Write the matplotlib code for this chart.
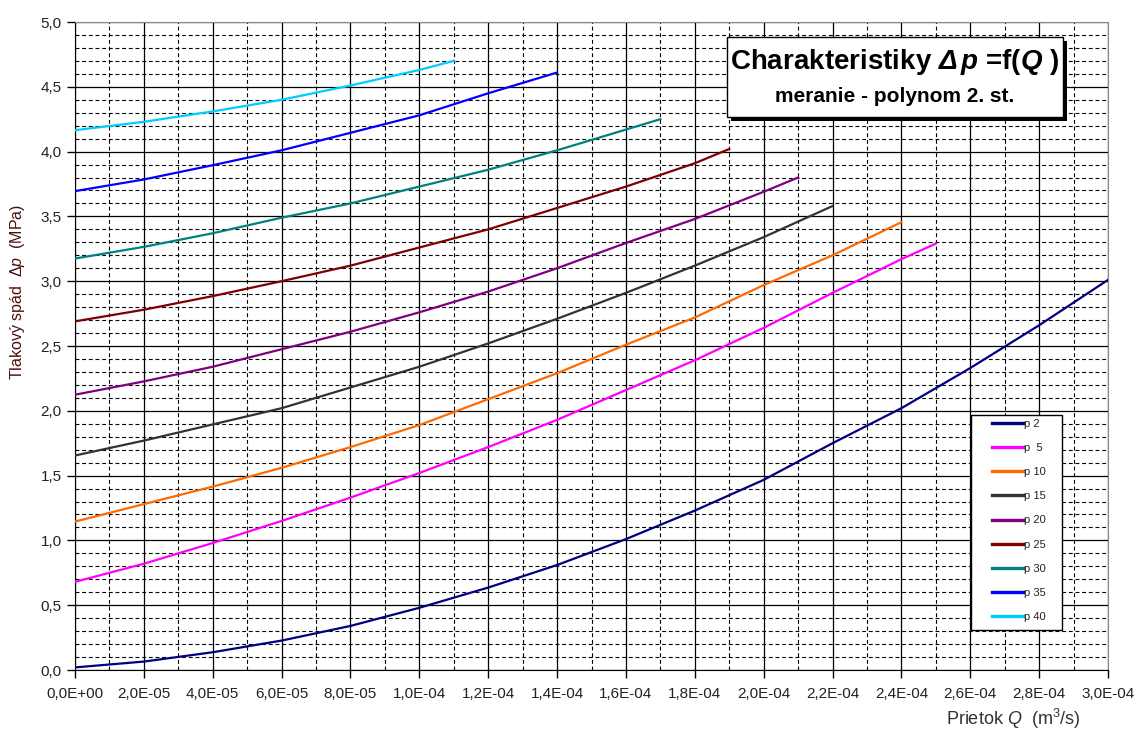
"""Charakteristiky dp = f(Q): meranie, polynom 2. st."""
import numpy as np
import matplotlib; matplotlib.use('Agg')
import matplotlib.pyplot as plt
from matplotlib.ticker import MultipleLocator, FuncFormatter
from matplotlib.patches import Rectangle

plt.rcParams['font.family'] = ['Liberation Sans', 'DejaVu Sans']
plt.rcParams['mathtext.fontset'] = 'custom'
plt.rcParams['mathtext.rm'] = 'Liberation Sans'
plt.rcParams['mathtext.it'] = 'Liberation Sans:italic'
plt.rcParams['mathtext.bf'] = 'Liberation Sans:bold'
plt.rcParams['mathtext.bfit'] = 'Liberation Sans:bold:italic'

# Q in units of 1e-5 m^3/s, dp in MPa
LABELS = ['p 2', 'p  5', 'p 10', 'p 15', 'p 20', 'p 25', 'p 30', 'p 35', 'p 40']
COLORS = ['#000080', '#FF00FF', '#FF6A00', '#333333', '#800080',
          '#800000', '#008080', '#0000FF', '#00CCFF']

q_p2 = [0, 2, 4, 6, 8, 10, 12, 14, 16, 18, 20, 22, 24, 26, 28, 30]
dp_p2 = [0.02, 0.065, 0.137, 0.227, 0.34, 0.48, 0.636, 0.81, 1.01, 1.23,
         1.467, 1.75, 2.02, 2.33, 2.66, 3.01]
q_p5 = [0, 2, 4, 6, 8, 10, 12, 14, 16, 18, 20, 22, 24, 25]
dp_p5 = [0.68, 0.82, 0.98, 1.15, 1.33, 1.52, 1.72, 1.93, 2.16, 2.39,
         2.64, 2.91, 3.17, 3.29]
q_p10 = [0, 2, 4, 6, 8, 10, 12, 14, 16, 18, 20, 22, 24]
dp_p10 = [1.145, 1.28, 1.415, 1.56, 1.72, 1.89, 2.09, 2.29, 2.51, 2.72,
          2.97, 3.2, 3.455]
q_p15 = [0, 2, 4, 6, 8, 10, 12, 14, 16, 18, 20, 22]
dp_p15 = [1.655, 1.77, 1.895, 2.02, 2.18, 2.34, 2.52, 2.71, 2.91, 3.12,
          3.34, 3.58]
q_p20 = [0, 2, 4, 6, 8, 10, 12, 14, 16, 18, 20, 21]
dp_p20 = [2.124, 2.227, 2.34, 2.475, 2.61, 2.76, 2.92, 3.10, 3.295, 3.48,
          3.69, 3.80]
q_p25 = [0, 2, 4, 6, 8, 10, 12, 14, 16, 18, 19]
dp_p25 = [2.69, 2.78, 2.885, 3.0, 3.12, 3.26, 3.40, 3.565, 3.73, 3.91, 4.02]
q_p30 = [0, 2, 4, 6, 8, 10, 12, 14, 16, 17]
dp_p30 = [3.175, 3.265, 3.37, 3.49, 3.60, 3.73, 3.86, 4.01, 4.17, 4.25]
q_p35 = [0, 2, 4, 6, 8, 10, 12, 14]
dp_p35 = [3.695, 3.785, 3.895, 4.01, 4.145, 4.28, 4.45, 4.61]
q_p40 = [0, 2, 4, 6, 8, 10, 11]
dp_p40 = [4.165, 4.23, 4.31, 4.40, 4.51, 4.63, 4.70]

SERIES = [(q_p2, dp_p2), (q_p5, dp_p5), (q_p10, dp_p10), (q_p15, dp_p15),
          (q_p20, dp_p20), (q_p25, dp_p25), (q_p30, dp_p30),
          (q_p35, dp_p35), (q_p40, dp_p40)]

W, H = 1140, 734
fig = plt.figure(figsize=(W / 100, H / 100), dpi=100)
ax = fig.add_axes([75 / W, 1 - 670 / H, (1108 - 75) / W, (670 - 22) / H])

for (q, dp), lab, col in zip(SERIES, LABELS, COLORS):
    ax.plot(np.array(q) * 1e-5, dp, color=col, lw=1.6, label=lab, zorder=3)

ax.set_xlim(0, 3.0e-4)
ax.set_ylim(0, 5.0)
ax.xaxis.set_major_locator(MultipleLocator(2e-5))
ax.xaxis.set_minor_locator(MultipleLocator(1e-5))
ax.yaxis.set_major_locator(MultipleLocator(0.5))
ax.yaxis.set_minor_locator(MultipleLocator(0.1))
ax.xaxis.set_major_formatter(FuncFormatter(lambda v, p: f"{v:.1E}".replace('.', ',')))
ax.yaxis.set_major_formatter(FuncFormatter(lambda v, p: f"{v:.1f}".replace('.', ',')))
ax.tick_params(which='major', direction='out', length=6, width=1, color='black',
               labelsize=11, labelcolor='#222222')
ax.tick_params(which='minor', length=0)
ax.tick_params(axis='x', pad=6)

ax.set_axisbelow(True)
ax.grid(which='major', color='black', lw=0.9, ls='-')
ax.grid(which='minor', color='black', lw=0.8, ls=(0, (3.5, 2.5)))
for s in ['left', 'bottom']:
    ax.spines[s].set_color('black')
for s in ['top', 'right']:
    ax.spines[s].set_color('#888888')

# labels
fig.text(1013 / W, 1 - 719 / H, r"Prietok $\mathit{Q}$  (m$^3$/s)", fontsize=13,
         color='#333333', ha='center', va='center')
fig.text(18 / W, 1 - 292 / H, r"Tlakový spád  $\mathit{\Delta p}$  (MPa)", fontsize=11.5,
         color='#4a1010', ha='center', va='center', rotation=90)

# title box with shadow
bx0, by0, bx1, by1 = 727, 37, 1063, 117
fig.add_artist(Rectangle(((bx0 + 4) / W, 1 - (by1 + 4) / H), (bx1 - bx0) / W, (by1 - by0) / H,
                         transform=fig.transFigure, facecolor='black', edgecolor='none', zorder=5))
fig.add_artist(Rectangle((bx0 / W, 1 - by1 / H), (bx1 - bx0) / W, (by1 - by0) / H,
                         transform=fig.transFigure, facecolor='white', edgecolor='black',
                         lw=1, zorder=6))
fig.text(895 / W, 1 - 62 / H, r"Charakteristiky $\mathbfit{\Delta\,p}$ =f($\mathbfit{Q}$ )",
         fontsize=20, fontweight='bold', ha='center', va='center', zorder=7)
fig.text(895 / W, 1 - 97 / H, "meranie - polynom 2. st.", fontsize=15,
         fontweight='bold', ha='center', va='center', zorder=7)

# legend: frame drawn as a box, entries placed inside it
ax.add_patch(Rectangle((971 / W, 1 - 630 / H), (1062 - 971) / W, (630 - 415) / H,
                       transform=fig.transFigure, facecolor='white', edgecolor='black',
                       lw=1, zorder=4))
leg = ax.legend(loc='upper left', bbox_to_anchor=(992 / W, 1 - 419 / H),
                bbox_transform=fig.transFigure, fontsize=8, frameon=False,
                handlelength=2.8, handletextpad=0.05, labelspacing=1.27,
                borderpad=0, borderaxespad=0)
leg.set_zorder(5)
for t in leg.get_texts():
    t.set_color('#222222')
for l in leg.get_lines():
    l.set_linewidth(2.4)

fig.savefig('out.png', dpi=100)
